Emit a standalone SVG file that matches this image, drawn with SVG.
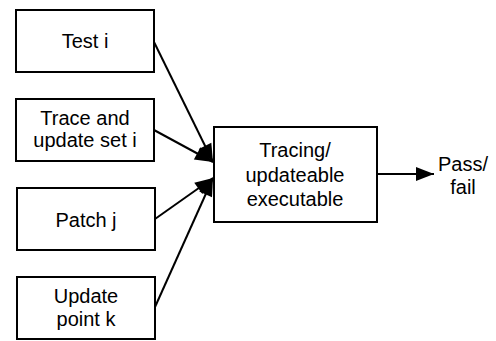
<svg xmlns="http://www.w3.org/2000/svg" width="496" height="341" viewBox="0 0 496 341">
<style>
.box{fill:#fff;stroke:#000;stroke-width:2}
.t{font-family:"Liberation Sans",Arial,Helvetica,sans-serif;font-size:20px;fill:#000;text-anchor:middle}
.c{stroke:#000;stroke-width:2;fill:none;marker-end:url(#ah)}
</style>
<defs>
<marker id="ah" markerUnits="userSpaceOnUse" markerWidth="20" markerHeight="16" refX="18" refY="7" orient="auto" overflow="visible">
<path d="M0,0 L18,7 L0,14 z" fill="#000"/>
</marker>
</defs>
<g id="connectors">
<line class="c" x1="154" y1="42" x2="213" y2="162"/>
<line class="c" x1="154" y1="130" x2="213" y2="162"/>
<line class="c" x1="155" y1="219" x2="213" y2="178"/>
<line class="c" x1="155" y1="307" x2="213" y2="178"/>
<line class="c" x1="377" y1="174" x2="434" y2="174"/>
</g>
<g id="test">
<rect class="box" x="16" y="10" width="138" height="62"/>
<text class="t" x="85" y="48">Test i</text>
</g>
<g id="trace">
<rect class="box" x="16" y="99" width="138" height="62"/>
<text class="t" x="85" y="125">Trace and</text>
<text class="t" x="85" y="147">update set i</text>
</g>
<g id="patch">
<rect class="box" x="17" y="188" width="138" height="62"/>
<text class="t" x="86" y="227">Patch j</text>
</g>
<g id="update">
<rect class="box" x="17" y="277" width="138" height="62"/>
<text class="t" x="86" y="303">Update</text>
<text class="t" x="86" y="326">point k</text>
</g>
<g id="exec">
<rect class="box" x="214" y="127" width="163" height="95"/>
<text class="t" x="295" y="157">Tracing/</text>
<text class="t" x="295" y="182">updateable</text>
<text class="t" x="295" y="206">executable</text>
</g>
<g id="result">
<text class="t" x="463" y="171">Pass/</text>
<text class="t" x="463" y="194">fail</text>
</g>
</svg>
